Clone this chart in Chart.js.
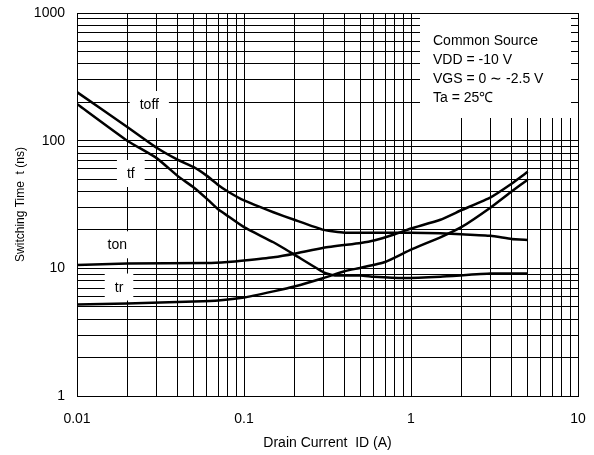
<!DOCTYPE html>
<html>
<head>
<meta charset="utf-8">
<script src="https://cdn.jsdelivr.net/npm/chart.js@4.4.0/dist/chart.umd.min.js"></script>
<style>
  html, body { margin: 0; padding: 0; background: #fff; }
</style>
</head>
<body>
<canvas id="chart" width="594" height="455"></canvas>
<script>
// Switching time vs drain current
const toffCurrent = [0.01, 0.02, 0.03, 0.04, 0.05, 0.06, 0.07, 0.08, 0.1, 0.15, 0.2, 0.3, 0.4, 0.6, 1, 1.5, 2, 3, 4, 5];
const toffTime    = [240, 128, 88, 71, 62, 53, 45, 40, 34, 27.5, 24, 20, 19, 19, 19, 18.8, 18.5, 18, 17, 16.7];

const tfCurrent = [0.01, 0.02, 0.03, 0.04, 0.05, 0.06, 0.07, 0.08, 0.1, 0.15, 0.2, 0.3, 0.35, 0.5, 0.6, 0.9, 1.5, 3, 5];
const tfTime    = [194, 100, 73, 53, 43, 35, 29, 25.7, 21, 16, 12.8, 9.3, 8.8, 8.8, 8.6, 8.4, 8.6, 9.1, 9.1];

const tonCurrent = [0.01, 0.02, 0.06, 0.08, 0.1, 0.15, 0.2, 0.3, 0.5, 0.6, 0.8, 1, 1.5, 2, 3, 4, 5];
const tonTime    = [10.6, 10.9, 11, 11.2, 11.5, 12.2, 13, 14.5, 15.8, 16.5, 18.5, 20.5, 24, 28.5, 36, 46, 57];

const trCurrent = [0.01, 0.02, 0.05, 0.07, 0.1, 0.15, 0.2, 0.3, 0.4, 0.5, 0.7, 1, 1.5, 2, 3, 4, 5];
const trTime    = [5.2, 5.3, 5.5, 5.6, 5.9, 6.6, 7.2, 8.4, 9.5, 10.1, 11.2, 14, 17.5, 21, 30, 40, 49.5];

// axis labels
const xTickValues = [0.01, 0.1, 1, 10];
const xTickLabels = ['0.01', '0.1', '1', '10'];
const yTickValues = [1, 10, 100, 1000];
const yTickLabels = ['1', '10', '100', '1000'];

// curve name tags (anchor = text baseline centre, in data units)
const tagNames   = ['toff', 'tf', 'ton', 'tr'];
const tagCurrent = [0.0271, 0.021, 0.01743, 0.01785];
const tagTime    = [177, 51, 14.1, 6.58];

const conditionLines = ['Common Source', 'VDD = -10 V', 'VGS = 0 \u223C -2.5 V', 'Ta = 25\u2103'];

const FONT = '"Liberation Sans", Arial, Helvetica, sans-serif';

// 1..9 grid lines per decade
function decadeGrid(lo, hi) {
  const out = [];
  for (let d = lo; d < hi; d++) {
    for (let m = 1; m < 10; m++) out.push(m * Math.pow(10, d));
  }
  out.push(Math.pow(10, hi));
  return out;
}

function labelFor(values, labels, v) {
  const i = values.findIndex(t => Math.abs(Math.log10(t) - Math.log10(v)) < 1e-6);
  return i >= 0 ? labels[i] : '';
}

function pairs(xs, ys) {
  return xs.map((x, i) => ({ x: x, y: ys[i] }));
}

const tagsPlugin = {
  id: 'tags',
  beforeDatasetsDraw(chart) {
    const { ctx, chartArea, scales } = chart;
    ctx.save();
    ctx.font = '14px ' + FONT;
    ctx.textBaseline = 'alphabetic';

    // curve names on white patches
    ctx.textAlign = 'center';
    tagNames.forEach((name, i) => {
      const px = scales.x.getPixelForValue(tagCurrent[i]);
      const py = scales.y.getPixelForValue(tagTime[i]);
      const w = ctx.measureText(name).width + 20;
      ctx.fillStyle = '#fff';
      ctx.fillRect(px - w / 2, py - 18, w, 27);
      ctx.fillStyle = '#000';
      ctx.fillText(name, px, py);
    });

    // test condition box
    const bx = chartArea.right - 158;
    const by = chartArea.top + 1;
    ctx.fillStyle = '#fff';
    ctx.fillRect(bx, by, 151, 104);
    ctx.fillStyle = '#000';
    ctx.textAlign = 'left';
    conditionLines.forEach((line, i) => {
      ctx.fillText(line, bx + 13, by + 30.5 + i * 19);
    });
    ctx.restore();
  }
};

new Chart(document.getElementById('chart').getContext('2d'), {
  type: 'line',
  data: {
    datasets: [
      { label: 'toff', data: pairs(toffCurrent, toffTime) },
      { label: 'tf', data: pairs(tfCurrent, tfTime) },
      { label: 'ton', data: pairs(tonCurrent, tonTime) },
      { label: 'tr', data: pairs(trCurrent, trTime) }
    ].map(ds => Object.assign(ds, {
      borderColor: '#000',
      borderWidth: 2.5,
      pointRadius: 0,
      tension: 0.15,
      fill: false
    }))
  },
  options: {
    responsive: false,
    animation: false,
    layout: { padding: { top: 13, right: 16, left: 0, bottom: 0 } },
    plugins: {
      legend: { display: false },
      tooltip: { enabled: false }
    },
    scales: {
      x: {
        type: 'logarithmic',
        min: 0.01,
        max: 10,
        afterFit(scale) {
          scale.height = 59;
          scale.paddingLeft = 0;
          scale.paddingRight = 0;
        },
        afterBuildTicks(scale) { scale.ticks = decadeGrid(-2, 1).map(v => ({ value: v })); },
        grid: { color: '#000', lineWidth: 1, drawTicks: false },
        border: { color: '#000', width: 1 },
        ticks: {
          autoSkip: false,
          maxRotation: 0,
          padding: 15,
          color: '#000',
          font: { family: FONT, size: 14 },
          callback: v => labelFor(xTickValues, xTickLabels, v)
        },
        title: {
          display: true,
          text: 'Drain Current  ID (A)',
          color: '#000',
          font: { family: FONT, size: 14 },
          padding: { top: 0, bottom: 3 }
        }
      },
      y: {
        type: 'logarithmic',
        min: 1,
        max: 1000,
        afterFit(scale) {
          scale.width = 77;
          scale.paddingTop = 0;
          scale.paddingBottom = 0;
        },
        afterBuildTicks(scale) { scale.ticks = decadeGrid(0, 3).map(v => ({ value: v })); },
        grid: { color: '#000', lineWidth: 1, drawTicks: false },
        border: { color: '#000', width: 1 },
        ticks: {
          autoSkip: false,
          padding: 12,
          color: '#000',
          font: { family: FONT, size: 14 },
          callback: v => labelFor(yTickValues, yTickLabels, v)
        },
        title: {
          display: true,
          text: 'Switching Time  t (ns)',
          color: '#000',
          font: { family: FONT, size: 12 },
          padding: { top: 13, bottom: 0 }
        }
      }
    }
  },
  plugins: [tagsPlugin]
});
</script>
</body>
</html>
